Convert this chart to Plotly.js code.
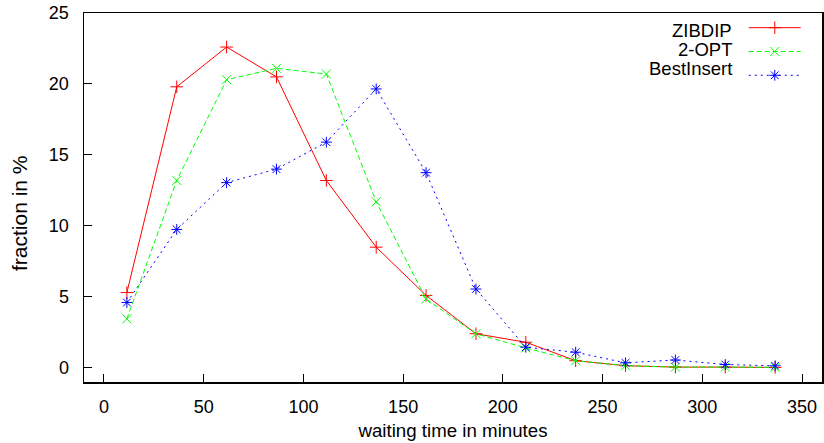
<!DOCTYPE html>
<html>
<head>
<meta charset="utf-8">
<script src="https://cdn.plot.ly/plotly-3.0.1.min.js"></script>
<style>
  html, body { margin: 0; padding: 0; background: #fff; }
  #chart { width: 824px; height: 443px; }
</style>
</head>
<body>
<div id="chart"></div>
<script>
// waiting time bins (minutes)
const waitingTime = [11.5, 36.5, 61.5, 86.5, 111.5, 136.5, 161.5, 186.5, 211.5, 236.5, 261.5, 286.5, 311.5, 336.5];
// fraction in %
const zibdip     = [5.3, 19.8, 22.6, 20.5, 13.2, 8.5, 5.1, 2.4, 1.8, 0.5, 0.15, 0.05, 0.05, 0.03];
const twoOpt     = [3.45, 13.2, 20.3, 21.1, 20.7, 11.7, 4.85, 2.4, 1.4, 0.5, 0.15, 0.05, 0.05, 0.03];
const bestInsert = [4.6, 9.75, 13.05, 14.0, 15.9, 19.65, 13.75, 5.55, 1.45, 1.1, 0.35, 0.55, 0.23, 0.14];
const seriesNames = ["ZIBDIP", "2-OPT", "BestInsert"];
const xTicks = [0, 50, 100, 150, 200, 250, 300, 350];
const yTicks = [0, 5, 10, 15, 20, 25];

const FONT = "Liberation Sans, Arial, Helvetica, sans-serif";

function trace(y, name, color, dash, symbol) {
  return {
    x: waitingTime, y: y, name: "", type: "scatter", mode: "lines+markers",
    line: { color: color, width: 1, dash: dash },
    marker: { symbol: symbol, size: 9, color: color, line: { color: color, width: 1 } },
    hovertemplate: name + "<br>%{x}: %{y}<extra></extra>"
  };
}

const data = [
  trace(zibdip, seriesNames[0], "#ff0000", "solid", "cross-thin-open"),
  trace(twoOpt, seriesNames[1], "#00ff00", "5px,3px", "x-thin-open"),
  trace(bestInsert, seriesNames[2], "#0000ff", "2px,4px", "asterisk-open")
];

const legendTextX = 0.8808;
const legendTextY = [0.9539, 0.9024, 0.8509];

const annotations = seriesNames.map((n, i) => ({
  text: n, xref: "paper", yref: "paper", x: legendTextX, y: legendTextY[i],
  xanchor: "right", yanchor: "middle", showarrow: false,
  font: { family: FONT, size: 18.5, color: "#000" }
}));
annotations.push({
  text: "fraction in %", xref: "paper", yref: "paper", x: -0.0867, y: 0.458,
  xanchor: "center", yanchor: "middle", textangle: -90, showarrow: false,
  font: { family: FONT, size: 21, color: "#000" }
});

const layout = {
  width: 824, height: 443,
  margin: { l: 84, r: 2, t: 13, b: 61, pad: 0 },
  paper_bgcolor: "#fff", plot_bgcolor: "#fff",
  font: { family: FONT, size: 18, color: "#000" },
  showlegend: true,
  legend: {
    x: 0.894, y: 1.006, xanchor: "left", yanchor: "top",
    bgcolor: "rgba(0,0,0,0)", borderwidth: 0,
    font: { family: FONT, size: 16 }, itemwidth: 52, tracegroupgap: 0
  },
  xaxis: {
    range: [-10, 360], tickvals: xTicks, ticktext: xTicks.map(String),
    ticks: "inside", ticklen: 8, tickwidth: 1, tickcolor: "#000",
    showline: true, mirror: true, linecolor: "#000", linewidth: 1.5,
    showgrid: false, zeroline: false,
    tickfont: { family: FONT, size: 18 }, ticklabelstandoff: 8,
    title: { text: "waiting time in minutes", standoff: 8, font: { family: FONT, size: 18.7 } }
  },
  yaxis: {
    range: [-1, 25], tickvals: yTicks, ticktext: yTicks.map(String),
    ticks: "inside", ticklen: 8, tickwidth: 1, tickcolor: "#000",
    showline: true, mirror: true, linecolor: "#000", linewidth: 1.5,
    showgrid: false, zeroline: false,
    tickfont: { family: FONT, size: 18 }, ticklabelstandoff: 10
  },
  annotations: annotations
};

Plotly.newPlot("chart", data, layout, { displayModeBar: false, staticPlot: true });
</script>
</body>
</html>
